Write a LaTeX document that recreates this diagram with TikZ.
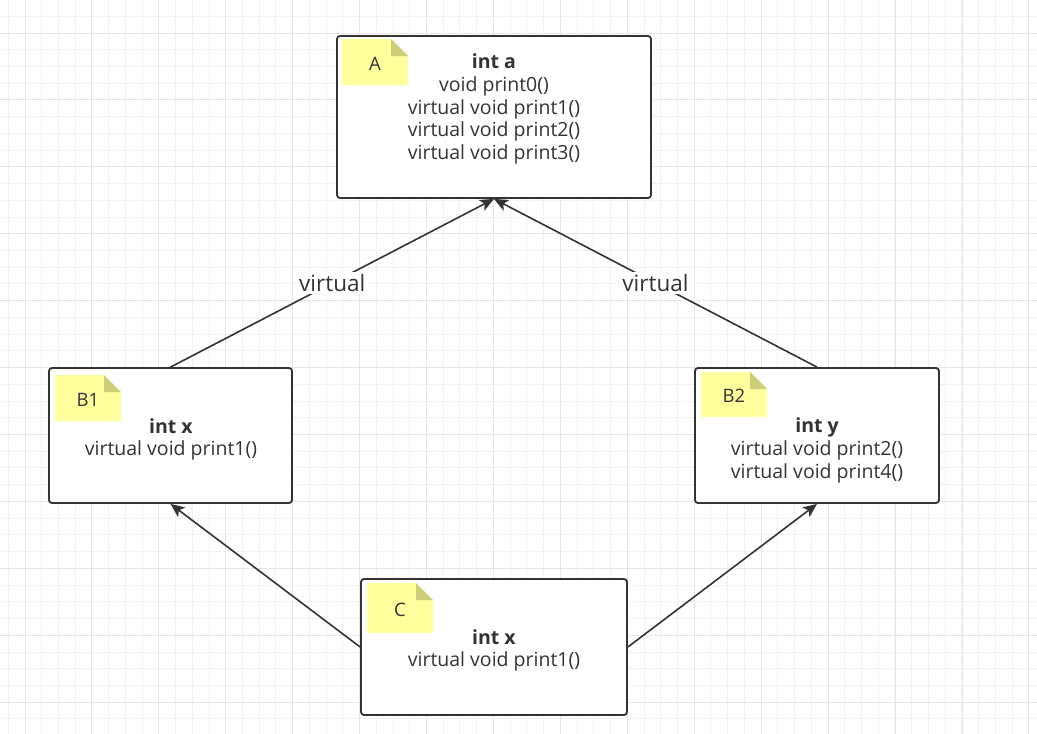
\documentclass[tikz,border=0pt]{standalone}
\usepackage{fontspec}
\setmainfont{Open Sans}
\usetikzlibrary{arrows.meta,positioning}
\definecolor{ink}{HTML}{333333}
\definecolor{notefill}{HTML}{FFFF9E}
\definecolor{notefold}{HTML}{CDCD7A}
\definecolor{gridminor}{HTML}{F2F2F2}
\definecolor{gridmajor}{HTML}{E6E6E6}
\def\Virt{virtual void}

% yellow sticky note: name, top left corner, height, label
\newcommand{\notetag}[4]{%
  \begin{scope}[shift={#2}]
    \fill[notefill] (0,0) -- (49,0) -- (66,17) -- (66,#3) -- (0,#3) -- cycle;
    \fill[notefold] (49,0) -- (66,17) -- (49,17) -- cycle;
    \node[notetext] (#1) at (33,#3/2+1.5) {#4};
  \end{scope}}

\begin{document}
\begin{tikzpicture}[x=1pt,y=-1pt,% pixel units, y grows downwards
      every node/.style={
        align=center,    % so that "\\" breaks the lines
        text=ink,
        font=\fontsize{19.5}{22.75}\selectfont
      },
      classbox/.style={draw=ink,line width=1.8pt,rounded corners=3pt,fill=white,inner sep=0pt},
      notetext/.style={inner sep=0pt,font=\fontsize{18.5}{20}\selectfont},
      link/.style={color=ink,line width=1.6pt,-{Stealth[length=14pt,width=12pt,inset=3.5pt]}},
      tag/.style={fill=white,inner sep=2pt,font=\fontsize{22.5}{26}\selectfont}
    ]
    \useasboundingbox (0,0) rectangle (1037,734);
    \fill[white] (0,0) rectangle (1037,734);
    \begin{scope}
      \clip (0,0) rectangle (1037,734);
      \foreach \i in {0,...,62} {
        \draw[gridminor,line width=1pt] ({8.27+16.73*\i},0) -- ++(0,734);
      }
      \foreach \i in {0,...,44} {
        \draw[gridminor,line width=1pt] (0,{-0.46+16.73*\i}) -- ++(1037,0);
      }
      \foreach \i in {0,...,15} {
        \draw[gridmajor,line width=1pt] ({25+66.93*\i},0) -- ++(0,734);
      }
      \foreach \i in {0,...,10} {
        \draw[gridmajor,line width=1pt] (0,{33+66.93*\i}) -- ++(1037,0);
      }
    \end{scope}

    \node[classbox,minimum width=314pt,minimum height=162pt](A) at (494,117){};
    \node[classbox,minimum width=243pt,minimum height=135pt](B1) at (170.5,435.5){};
    \node[classbox,minimum width=244pt,minimum height=135pt](B2) at (817,435.5){};
    \node[classbox,minimum width=266pt,minimum height=136pt](C) at (494,647){};

    \node(At) at (494,109){\textbf{int a}\\ void print0()\\ \Virt{} print1()\\ \Virt{} print2()\\ \Virt{} print3()};
    \node(B1t) at (171,439.5){\textbf{int x}\\ \Virt{} print1()};
    \node(B2t) at (817,450.5){\textbf{int y}\\ \Virt{} print2()\\ \Virt{} print4()};
    \node(Ct) at (494,650.5){\textbf{int x}\\ \Virt{} print1()};

    \notetag{An}{(342,39)}{46}{A}
    \notetag{B1n}{(55,375)}{46}{B1}
    \notetag{B2n}{(701,372)}{45}{B2}
    \notetag{Cn}{(367,583)}{50}{C}

    \path[link]
    (B1.north) edge node[tag](v1){virtual} (A.south)
    (B2.north) edge node[tag](v2){virtual} (A.south)
    (C.west) edge (B1.south)
    (C.east) edge (B2.south)
    ;
\end{tikzpicture}
\end{document}
